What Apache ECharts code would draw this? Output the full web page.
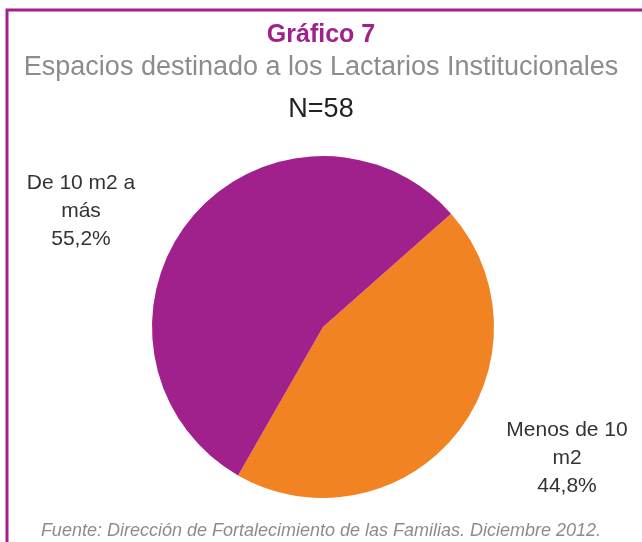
<!DOCTYPE html>
<html>
<head>
<meta charset="utf-8">
<script src="https://cdn.jsdelivr.net/npm/echarts@6/dist/echarts.min.js"></script>
<style>
  html, body { margin: 0; padding: 0; background: #fff; }
  #chart { width: 642px; height: 542px; }
</style>
</head>
<body>
<div id="chart"></div>
<script>
// data
var categories = ['Menos de 10\nm2', 'De 10 m2 a\nmás'];
var values = [44.8, 55.2];
var colors = ['#f28322', '#a0208c'];
var sampleSize = 58;

var chart = echarts.init(document.getElementById('chart'));

var pieData = categories.map(function (name, i) {
    return { name: name, value: values[i], itemStyle: { color: colors[i] } };
});

// label anchors (styling only)
var labelPos = [[567, 458], [81, 211]];

chart.setOption({
    animation: false,
    backgroundColor: '#fff',
    title: [{
        text: 'Gráfico 7',
        left: 'center',
        top: 18,
        textStyle: { color: '#a0208c', fontSize: 25, fontWeight: 'bold', fontFamily: 'Liberation Sans' }
    }, {
        text: 'Espacios destinado a los Lactarios Institucionales',
        left: 'center',
        top: 49,
        textStyle: { color: '#8c8c8c', fontSize: 27, fontWeight: 'normal', fontFamily: 'Liberation Sans' }
    }, {
        text: 'N=' + sampleSize,
        left: 'center',
        top: 91,
        textStyle: { color: '#222', fontSize: 27, fontWeight: 'normal', fontFamily: 'Liberation Sans' }
    }, {
        text: 'Fuente: Dirección de Fortalecimiento de las Familias. Diciembre 2012.',
        left: 'center',
        top: 517,
        textStyle: { color: '#8c8c8c', fontSize: 18, fontStyle: 'italic', fontWeight: 'normal', fontFamily: 'Liberation Sans' }
    }],
    graphic: [{
        type: 'rect',
        shape: { x: 7, y: 10, width: 660, height: 560 },
        style: { fill: 'none', stroke: '#a0208c', lineWidth: 3 },
        silent: true
    }],
    series: [{
        type: 'pie',
        center: [323, 327],
        radius: 171,
        startAngle: 41.5,
        clockwise: true,
        data: pieData,
        label: {
            show: true,
            formatter: function (p) { return p.name + '\n' + String(p.value.toFixed(1)).replace('.', ',') + '%'; },
            color: '#333',
            fontSize: 21,
            lineHeight: 28,
            align: 'center',
            fontFamily: 'Liberation Sans'
        },
        labelLine: { show: false },
        labelLayout: function (params) {
            var p = labelPos[params.dataIndex];
            return { x: p[0], y: p[1], align: 'center', verticalAlign: 'middle' };
        },
        emphasis: { disabled: true }
    }]
});
</script>
</body>
</html>
